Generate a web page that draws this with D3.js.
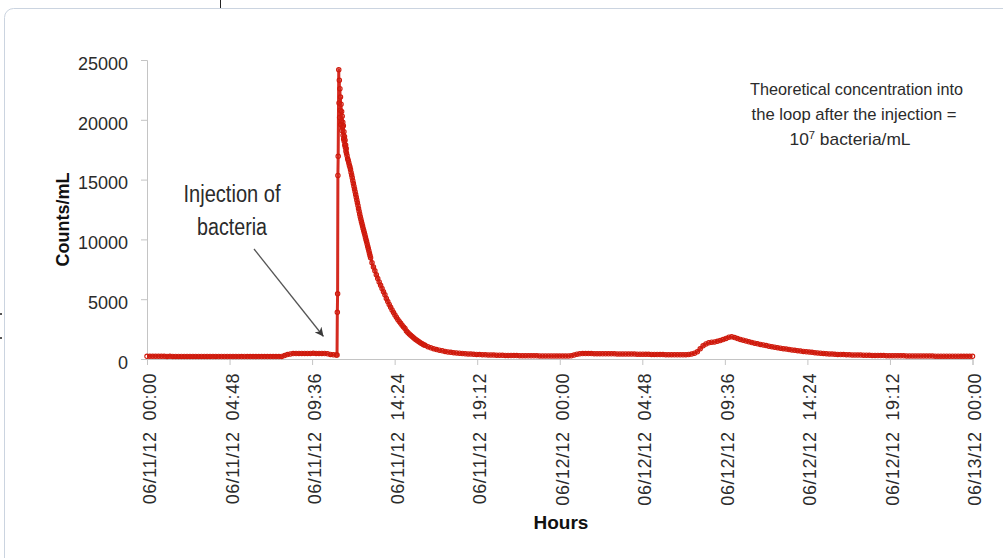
<!DOCTYPE html>
<html>
<head>
<meta charset="utf-8">
<script src="https://cdn.jsdelivr.net/npm/d3@7"></script>
<style>
  html, body { margin: 0; padding: 0; background: #fff; }
  svg { display: block; font-family: "Liberation Sans", Arial, sans-serif; }
</style>
</head>
<body>
<figure id="counts-chart" style="margin:0"></figure>
<script>
// samples: [minutes since 06/11/12 00:00, counts/mL]
const preInjection = [
  [0, 225], [10, 224], [20, 222], [30, 223], [40, 221], [50, 220], [60, 221], [70, 219], [80, 220], [90, 218],
  [100, 219], [110, 217], [120, 218], [130, 216], [140, 217], [150, 215], [160, 216], [170, 214], [180, 215], [190, 213],
  [200, 214], [210, 212], [220, 213], [230, 211], [240, 212], [250, 210], [260, 211], [270, 209], [280, 210], [290, 208],
  [300, 209], [310, 207], [320, 208], [330, 206], [340, 207], [350, 205], [360, 206], [370, 205], [380, 204], [390, 205],
  [400, 203], [410, 204], [420, 202], [430, 203], [440, 202], [450, 203], [460, 205], [470, 212], [480, 290], [490, 370],
  [500, 420], [510, 450], [520, 460], [530, 465], [540, 462], [550, 468], [560, 470], [570, 466], [580, 472], [590, 468],
  [600, 470], [610, 466], [620, 460], [630, 440], [640, 380], [650, 350], [660, 340]
];

const injectionPeak = [
  [663, 340], [664, 3900], [665, 5450], [666, 15350], [667, 16950], [669, 24180], [670, 21400], [671, 23300],
  [672, 20200], [673, 22600], [674, 20800], [675, 21900], [676, 19600], [677, 21300], [678, 19900], [679, 20700],
  [680, 19100], [681, 20300], [682, 19400], [683, 19800], [684, 18700], [685, 19500], [686, 18400], [687, 19000],
  [688, 18200], [689, 18600], [690, 17900], [691, 18300], [692, 17700], [693, 17900], [694, 17400], [695, 17600],
  [696, 17200], [698, 17000], [700, 16750]
];

const decayDay1 = [
  [702, 16600], [704, 16400], [706, 16200], [708, 16050], [710, 15850], [712, 15600], [714, 15380], [716, 15150],
  [718, 14900], [720, 14680], [722, 14450], [724, 14220], [726, 13980], [728, 13750], [730, 13520], [732, 13290],
  [734, 13060], [736, 12830], [738, 12590], [740, 12360], [742, 12130], [744, 11900], [746, 11700], [748, 11500],
  [750, 11300], [752, 11110], [754, 10920], [756, 10740], [758, 10560], [760, 10380], [762, 10190], [764, 10000],
  [766, 9820], [768, 9620], [770, 9430], [772, 9240], [774, 9050], [776, 8850], [778, 8650], [780, 8470],
  [785, 8050], [790, 7700], [795, 7370], [800, 7040], [805, 6740], [810, 6440], [815, 6160], [820, 5890],
  [825, 5630], [830, 5370], [835, 5050], [840, 4800], [845, 4560], [850, 4330], [855, 4100], [860, 3880],
  [865, 3680], [870, 3490], [875, 3310], [880, 3140], [885, 2980], [890, 2830], [895, 2680], [900, 2540],
  [905, 2350], [910, 2220], [915, 2100], [920, 1990], [925, 1880], [930, 1780], [935, 1680], [940, 1590],
  [945, 1500], [950, 1420], [955, 1340], [960, 1270], [965, 1200], [970, 1140], [980, 1030], [990, 940],
  [1000, 860], [1010, 790], [1020, 730], [1030, 680], [1040, 635], [1050, 595], [1060, 560], [1070, 530],
  [1080, 505], [1090, 480], [1100, 460], [1110, 440], [1120, 425], [1130, 410], [1140, 395], [1150, 382],
  [1160, 370], [1170, 360], [1180, 350], [1190, 342], [1200, 334], [1210, 327], [1220, 320], [1230, 314],
  [1240, 308], [1250, 303], [1260, 298], [1270, 293], [1280, 289], [1290, 285], [1300, 281], [1310, 277],
  [1320, 274], [1330, 270], [1340, 267], [1350, 264], [1360, 262], [1370, 259], [1380, 257], [1390, 254],
  [1400, 252], [1410, 250], [1420, 249], [1430, 247], [1440, 246]
];

const day2 = [
  [1450, 245], [1460, 246], [1470, 250], [1480, 270], [1490, 330], [1500, 400], [1510, 440], [1520, 450],
  [1530, 455], [1540, 452], [1550, 450], [1560, 448], [1570, 446], [1580, 443], [1590, 440], [1600, 437],
  [1610, 435], [1620, 432], [1630, 430], [1640, 427], [1650, 424], [1660, 421], [1670, 418], [1680, 415],
  [1690, 412], [1700, 408], [1710, 404], [1720, 400], [1730, 396], [1740, 392], [1750, 388], [1760, 384],
  [1770, 380], [1780, 376], [1790, 372], [1800, 368], [1810, 365], [1820, 362], [1830, 359], [1840, 357],
  [1850, 355], [1860, 354], [1870, 355], [1880, 360], [1890, 375], [1900, 410], [1910, 480], [1920, 600],
  [1930, 850], [1940, 1100], [1950, 1260], [1960, 1350], [1970, 1400], [1980, 1430], [1990, 1480], [2000, 1540],
  [2010, 1620], [2020, 1720], [2030, 1820], [2040, 1850], [2050, 1790], [2060, 1710], [2070, 1640], [2080, 1570],
  [2090, 1500], [2100, 1440], [2110, 1380], [2120, 1320], [2130, 1270], [2140, 1220], [2150, 1170], [2160, 1120],
  [2170, 1075], [2180, 1030], [2190, 985], [2200, 945], [2210, 905], [2220, 865], [2230, 830], [2240, 795],
  [2250, 760], [2260, 725], [2270, 695], [2280, 665], [2290, 635], [2300, 605], [2310, 580], [2320, 555],
  [2330, 530], [2340, 505], [2350, 485], [2360, 465], [2370, 445], [2380, 425], [2390, 410], [2400, 395],
  [2410, 385], [2420, 375], [2430, 366], [2440, 358], [2450, 350], [2460, 343], [2470, 336], [2480, 330],
  [2490, 324], [2500, 318], [2510, 313], [2520, 308], [2530, 303], [2540, 298], [2550, 294], [2560, 290],
  [2570, 286], [2580, 282], [2590, 279], [2600, 275], [2610, 272], [2620, 269], [2630, 266], [2640, 263],
  [2650, 260], [2660, 258], [2670, 255], [2680, 253], [2690, 251], [2700, 249], [2710, 247], [2720, 245],
  [2730, 243], [2740, 241], [2750, 239], [2760, 237], [2770, 236], [2780, 234], [2790, 233], [2800, 231],
  [2810, 230], [2820, 229], [2830, 228], [2840, 226], [2850, 225], [2860, 224], [2870, 223], [2880, 222]
];

const xTicks = [
  "2012-06-11T00:00", "2012-06-11T04:48", "2012-06-11T09:36", "2012-06-11T14:24", "2012-06-11T19:12",
  "2012-06-12T00:00", "2012-06-12T04:48", "2012-06-12T09:36", "2012-06-12T14:24", "2012-06-12T19:12",
  "2012-06-13T00:00"
];
const yTicks = [0, 5000, 10000, 15000, 20000, 25000];

const noteLines = ["Theoretical concentration into", "the loop after the injection ="];
const injectionLabel = ["Injection of", "bacteria"];

const width = 1003;
const height = 558;
const margin = {top: 60, right: 31, bottom: 199, left: 147};
const plotW = width - margin.left - margin.right;
const plotH = height - margin.top - margin.bottom;

const red = "#cf1a0c";
const axisGray = "#c4c4c4";
const textColor = "#2b2b2b";

const start = new Date(2012, 5, 11, 0, 0);
const toDate = (m) => new Date(2012, 5, 11, 0, m);

const svg = d3.select("figure#counts-chart")
  .append("svg")
  .attr("width", width)
  .attr("height", height);

// frame of the pasted chart
svg.append("rect")
  .attr("x", 4.5).attr("y", 8.5)
  .attr("width", 1030).attr("height", 600)
  .attr("rx", 9)
  .attr("fill", "#fff")
  .attr("stroke", "#cbd4e0");

svg.append("line")
  .attr("x1", 220.5).attr("x2", 220.5).attr("y1", 0).attr("y2", 8)
  .attr("stroke", "#222");
svg.selectAll("rect.speck")
  .data([313, 337])
  .enter().append("rect")
  .attr("class", "speck")
  .attr("x", 0).attr("y", d => d)
  .attr("width", 2).attr("height", 2)
  .attr("fill", "#555");

const g = svg.append("g")
  .attr("transform", "translate(" + margin.left + "," + margin.top + ")");

const x = d3.scaleTime()
  .domain([start, new Date(2012, 5, 13, 0, 0)])
  .range([0, plotW + 0.5]);
const y = d3.scaleLinear().domain([0, 25000]).range([plotH, 0]);

// y axis
const yAxis = g.append("g")
  .call(d3.axisLeft(y).tickValues(yTicks).tickSize(6).tickPadding(13).tickFormat(d3.format("d")));
yAxis.select(".domain").attr("stroke", axisGray);
yAxis.selectAll(".tick line").attr("stroke", axisGray);
yAxis.selectAll(".tick text")
  .attr("font-size", "18px")
  .attr("font-family", "'Liberation Sans', Arial, sans-serif")
  .attr("fill", textColor)
  .attr("dy", "0.52em");

// x axis
const tickDates = xTicks.map(s => new Date(s));
const xAxis = g.append("g")
  .attr("transform", "translate(0," + plotH + ")")
  .call(d3.axisBottom(x).tickValues(tickDates).tickSize(6).tickFormat(d3.timeFormat("%m/%d/%y\u00a0\u00a0%H:%M")));
xAxis.select(".domain").attr("stroke", axisGray);
xAxis.selectAll(".tick line").attr("stroke", axisGray);
xAxis.selectAll(".tick text")
  .attr("font-size", "18px")
  .attr("font-family", "'Liberation Sans', Arial, sans-serif")
  .attr("letter-spacing", "0.5px")
  .attr("fill", textColor)
  .attr("text-anchor", "end")
  .attr("transform", "translate(2,14) rotate(-90)")
  .attr("x", 0).attr("y", 0)
  .attr("dy", "0.36em");

// axis titles
g.append("text")
  .attr("transform", "translate(" + (-84) + "," + (plotH / 2 + 10) + ") rotate(-90)")
  .attr("text-anchor", "middle")
  .attr("dy", "0.35em")
  .attr("font-size", "18px")
  .attr("font-weight", "bold")
  .attr("fill", "#111")
  .text("Counts/mL");

g.append("text")
  .attr("x", 414).attr("y", plotH + 170)
  .attr("text-anchor", "middle")
  .attr("font-size", "19px")
  .attr("font-weight", "bold")
  .attr("fill", "#111")
  .text("Hours");

// series
const samples = [...preInjection, ...injectionPeak, ...decayDay1, ...day2];

const line = d3.line()
  .x(d => x(toDate(d[0])))
  .y(d => y(d[1]));

g.append("path")
  .datum(samples)
  .attr("fill", "none")
  .attr("stroke", "#d42a20")
  .attr("stroke-width", 3)
  .attr("stroke-linejoin", "round")
  .attr("d", line);

g.append("g")
  .selectAll("circle")
  .data(samples)
  .enter()
  .append("circle")
  .attr("cx", d => x(toDate(d[0])))
  .attr("cy", d => y(d[1]))
  .attr("r", 2.2)
  .attr("fill", "none")
  .attr("stroke", red)
  .attr("stroke-width", 1.1);

// annotations
const narrow = "'Liberation Sans Narrow', 'Liberation Sans', Arial, sans-serif";
const noteWidths = [213, 205];
svg.selectAll("text.note")
  .data(noteLines)
  .enter().append("text")
  .attr("class", "note")
  .attr("x", (d, i) => i === 0 ? 856.5 : 854)
  .attr("y", (d, i) => 95 + i * 25)
  .attr("text-anchor", "middle")
  .attr("font-family", narrow)
  .attr("font-size", "17px")
  .attr("fill", textColor)
  .attr("textLength", (d, i) => noteWidths[i])
  .attr("lengthAdjust", "spacingAndGlyphs")
  .text(d => d);

const conc = svg.append("text")
  .attr("x", 850).attr("y", 145)
  .attr("text-anchor", "middle")
  .attr("font-family", narrow)
  .attr("font-size", "17px")
  .attr("fill", textColor)
  .attr("textLength", 121)
  .attr("lengthAdjust", "spacingAndGlyphs");
conc.append("tspan").text("10");
conc.append("tspan").attr("font-size", "11px").attr("dy", -6).text("7");
conc.append("tspan").attr("dy", 6).text(" bacteria/mL");

const injWidths = [97, 70];
svg.selectAll("text.inj")
  .data(injectionLabel)
  .enter().append("text")
  .attr("class", "inj")
  .attr("x", 232)
  .attr("y", (d, i) => 202 + i * 33)
  .attr("text-anchor", "middle")
  .attr("font-family", narrow)
  .attr("font-size", "23px")
  .attr("fill", textColor)
  .attr("textLength", (d, i) => injWidths[i])
  .attr("lengthAdjust", "spacingAndGlyphs")
  .text(d => d);

svg.append("defs").append("marker")
  .attr("id", "arrow")
  .attr("viewBox", "0 0 10 10")
  .attr("refX", 10).attr("refY", 5)
  .attr("markerUnits", "userSpaceOnUse")
  .attr("markerWidth", 9).attr("markerHeight", 9)
  .attr("orient", "auto")
  .append("path")
  .attr("d", "M0,0 L10,5 L0,10 L3,5 z")
  .attr("fill", "#3a3a3a");

svg.append("line")
  .attr("x1", 254).attr("y1", 249)
  .attr("x2", 323.5).attr("y2", 336.5)
  .attr("stroke", "#555")
  .attr("stroke-width", 1.3)
  .attr("marker-end", "url(#arrow)");
</script>
</body>
</html>
